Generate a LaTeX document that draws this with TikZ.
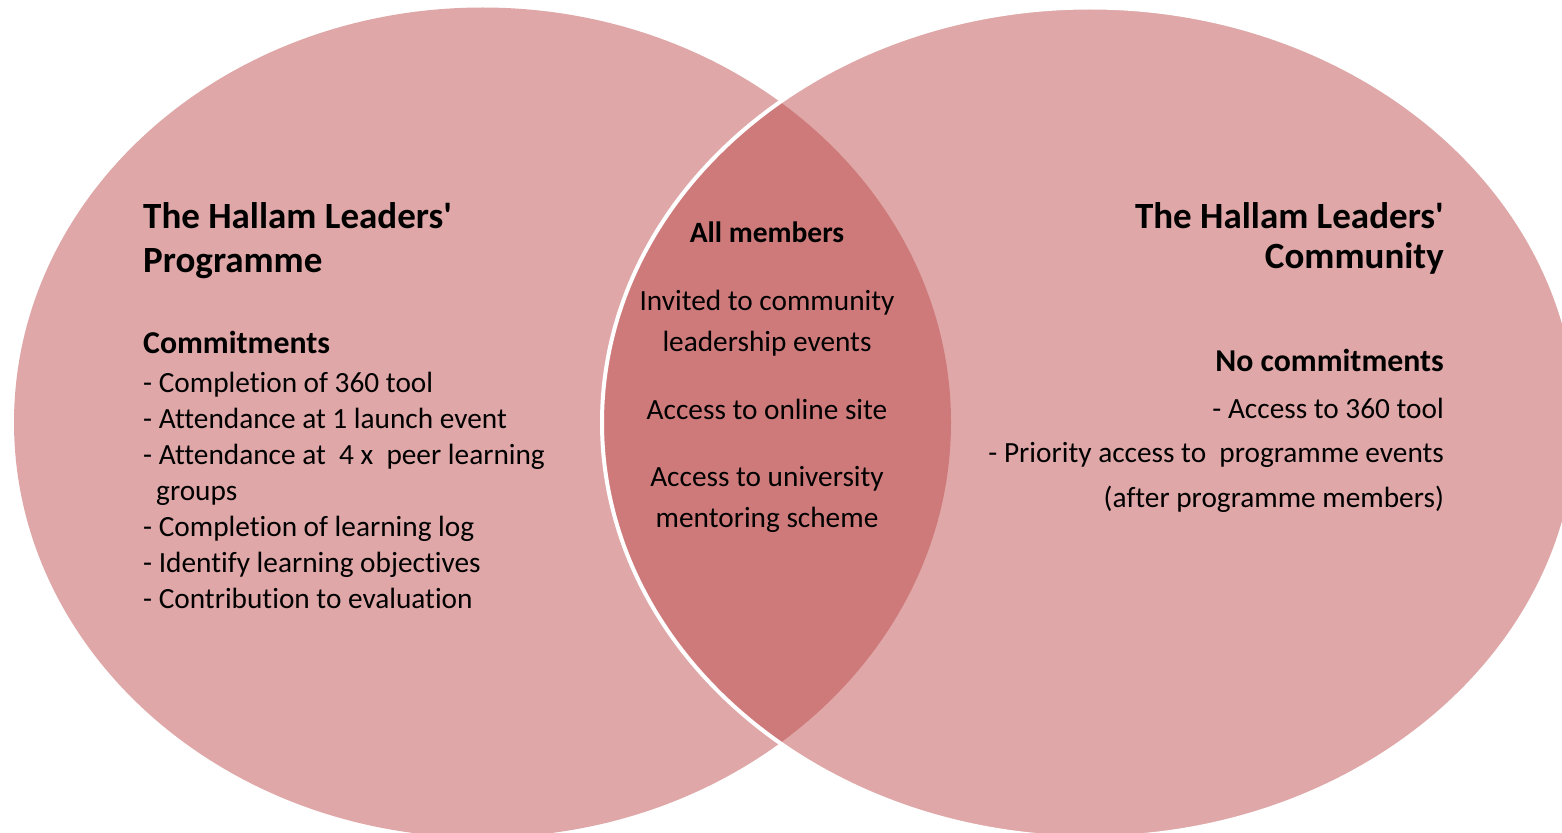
\documentclass[tikz,border=0pt]{standalone}
\usepackage{fontspec}
\setmainfont{Carlito}[Ligatures={NoCommon}]
\definecolor{vennbase}{RGB}{191,79,79}
\newcommand{\apos}{\textquotesingle}
\tikzset{
  setfill/.style={fill=vennbase, fill opacity=0.5},
  body/.style={font=\fontsize{29.3}{34}\selectfont, inner sep=0pt, text=black},
  bodybold/.style={inner sep=0pt, text=black, font=\fontsize{29.5}{34}\selectfont\bfseries},
  headbold/.style={inner sep=0pt, text=black, font=\fontsize{31.8}{36}\selectfont\bfseries},
  title/.style={inner sep=0pt, text=black, font=\fontsize{37}{42}\selectfont\bfseries},
}
\begin{document}
\begin{tikzpicture}[x=1pt,y=-1pt]
\useasboundingbox (0,0) rectangle (1562,832);
\clip (0,0) rectangle (1562,832);
% the two sets
\fill[setfill] (482.5,422.5) ellipse [x radius=468.5pt, y radius=415pt];
\fill[setfill] (1090,422.5) ellipse [x radius=488pt, y radius=415pt];
\draw[white, line width=4pt] (1090,422.5) ellipse [x radius=488pt, y radius=415pt];

% left set: programme
\node[title, anchor=base west] (lt1) at (143,228) {The Hallam Leaders\apos};
\node[title, anchor=base west] (lt2) at (143,272) {Programme};
\node[headbold, anchor=base west] (lhead) at (143,353) {Commitments};
\node[body, anchor=base west] (l1) at (143,392) {- Completion of 360 tool};
\node[body, anchor=base west] (l2) at (143,428) {- Attendance at 1 launch event};
\node[body, anchor=base west] (l3) at (143,464) {- Attendance at\ \ 4 x\ \ peer learning};
\node[body, anchor=base west] (l3b) at (156,500) {groups};
\node[body, anchor=base west] (l4) at (143,536) {- Completion of learning log};
\node[body, anchor=base west] (l5) at (143,572) {- Identify learning objectives};
\node[body, anchor=base west] (l6) at (143,608) {- Contribution to evaluation};

% overlap: shared by all members
\node[bodybold, anchor=base] (mhead) at (767,242) {All members};
\node[body, anchor=base] (m1) at (767,310) {Invited to community};
\node[body, anchor=base] (m1b) at (767,351) {leadership events};
\node[body, anchor=base] (m2) at (767,419) {Access to online site};
\node[body, anchor=base] (m3) at (767,486) {Access to university};
\node[body, anchor=base] (m3b) at (767,527) {mentoring scheme};

% right set: community
\node[title, anchor=base east] (rt1) at (1444,228) {The Hallam Leaders\apos};
\node[title, anchor=base east] (rt2) at (1444,268) {Community};
\node[headbold, anchor=base east] (rhead) at (1444,371) {No commitments};
\node[body, anchor=base east] (r1) at (1444,418) {- Access to 360 tool};
\node[body, anchor=base east] (r2) at (1444,462) {- Priority access to\ \ programme events};
\node[body, anchor=base east] (r2b) at (1444,507) {(after programme members)};
\end{tikzpicture}
\end{document}
